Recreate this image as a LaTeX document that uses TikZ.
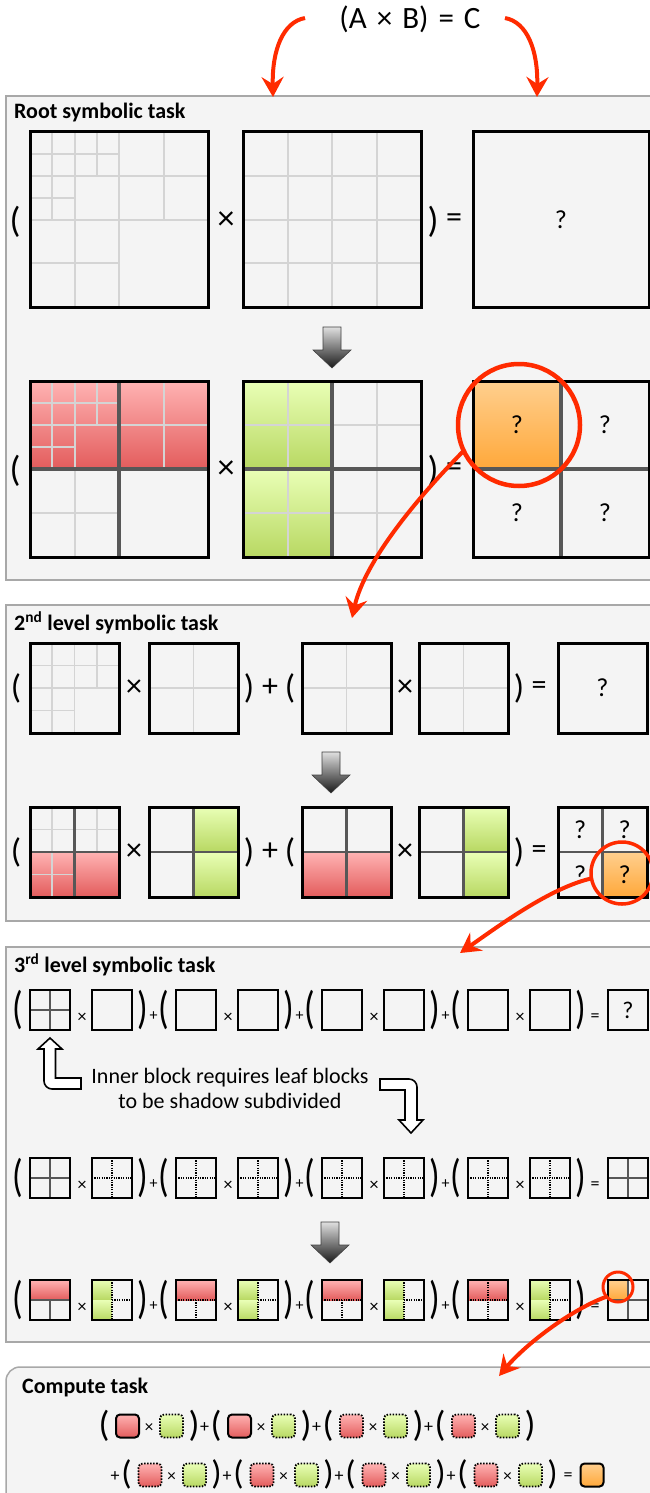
\documentclass[tikz,border=0pt]{standalone}
\usepackage{fontspec}
\setmainfont{Carlito}
\usetikzlibrary{arrows.meta}
\newcommand{\fsz}[1]{\fontsize{#1}{#1}\selectfont}
\definecolor{panelfill}{HTML}{F4F4F4}
\definecolor{panelline}{HTML}{A8A8A8}
\definecolor{lgray}{HTML}{D4D4D4}
\definecolor{dgray}{HTML}{575757}
\definecolor{redT}{HTML}{FFB3B3}
\definecolor{redB}{HTML}{E35C5C}
\definecolor{grnT}{HTML}{E9FFB6}
\definecolor{grnB}{HTML}{B8D862}
\definecolor{orgT}{HTML}{FFCF8E}
\definecolor{orgB}{HTML}{FFA83A}
\definecolor{hot}{HTML}{FF2B00}
\newcommand{\blk}[8]{%
  \begin{scope}[shift={(#2,#3)},xscale=#4/#6,yscale=#5/#6]#8\end{scope}%
  \node[#7,minimum width=#4pt,minimum height=#5pt] (#1) at (#2,#3) {};}
\newcommand{\Agrid}[1]{\draw[#1] (1,0)--(1,4) (2,0)--(2,8) (3,0)--(3,2) (4,0)--(4,8) (6,0)--(6,4) (0,1)--(4,1) (0,2)--(8,2) (0,3)--(2,3) (0,4)--(8,4) (0,6)--(4,6);}
\newcommand{\Bgrid}[1]{\draw[#1] (2,0)--(2,8) (4,0)--(4,8) (6,0)--(6,8) (0,2)--(8,2) (0,4)--(8,4) (0,6)--(8,6);}
\newcommand{\Qgrid}[1]{\draw[#1] (1,0)--(1,4) (2,0)--(2,4) (3,0)--(3,2) (0,1)--(4,1) (0,2)--(4,2) (0,3)--(2,3);}
\newcommand{\Cross}[1]{\draw[#1] (2,0)--(2,4) (0,2)--(4,2);}
\newcommand{\garrow}[2]{\draw[garr] ({#1-9},#2) -- ({#1+9},#2) -- ({#1+9},{#2+23}) -- ({#1+19},{#2+23}) -- (#1,{#2+41}) -- ({#1-19},{#2+23}) -- ({#1-9},{#2+23}) -- cycle;}
\newcommand{\thirdsyms}[3]{%
  \foreach \g/\xx in {1/30,2/176,3/322,4/468}{
    \node[sym=35] (#1l\g) at ({\xx-12},#2) {\scalebox{1}[1.3]{(}};
    \node[sym=18] (#1x\g) at ({\xx+52},#3) {×};
    \node[sym=35] (#1r\g) at ({\xx+112.5},#2) {\scalebox{1}[1.3]{)}};}
  \foreach \g/\xx in {1/30,2/176,3/322}{\node[sym=16] (#1p\g) at ({\xx+123.5},{#3-2}) {+};}
  \node[sym=18] (#1e) at (595,#3) {=};}
\tikzset{
  panel/.style={draw=panelline,fill=panelfill,line width=1.5pt,anchor=north west,inner sep=0pt,outer sep=0pt},
  ptitle/.style={anchor=base west,inner sep=0pt,font=\bfseries\fsz{22}},
  bbox/.style={draw=black,line width=3pt,anchor=north west,inner sep=0pt,outer sep=0pt},
  sbox/.style={draw=black,line width=2.4pt,anchor=north west,inner sep=0pt,outer sep=0pt},
  lg/.style={draw=lgray,line width=2pt},
  lgs/.style={draw=lgray,line width=1.6pt},
  dk/.style={draw=dgray,line width=3.4pt},
  dks/.style={draw=dgray,line width=2.4pt},
  dkt/.style={draw=dgray,line width=1.8pt},
  dt/.style={draw=black,line width=1.2pt,dash pattern=on 1.2pt off 1.2pt},
  redg/.style={top color=redT,bottom color=redB},
  grng/.style={top color=grnT,bottom color=grnB},
  orgg/.style={top color=orgT,bottom color=orgB},
  sym/.style={inner sep=0pt,font=\fsz{#1}},
  garr/.style={top color=gray!25,bottom color=black!90,draw=black!75,line width=0.6pt},
  hollow/.style={fill=white,draw=black,line width=1.6pt,line join=miter},
  ring/.style={circle,draw=hot,line width=#1,inner sep=0pt,outer sep=0pt},
  hotarrow/.style={draw=hot,line width=4pt,-{Stealth[length=20pt,width=22pt,inset=7pt]}},
  csq/.style={rounded corners=4pt,minimum size=23pt,inner sep=0pt,outer sep=0pt},
  csqs/.style={csq,draw=black,line width=2pt},
  csqd/.style={csq,draw=black,line width=1.8pt,dash pattern=on 1.5pt off 1.5pt},
}
\begin{document}
\begin{tikzpicture}[x=1pt,y=-1pt]
\clip (0,0) rectangle (650,1493);
\fill[white] (0,0) rectangle (650,1493);
% ---------------- Root panel
\node[panel,minimum width=670pt,minimum height=484pt] (P1) at (6,96) {};
\node[ptitle] (T1) at (14,118) {Root symbolic task};
\blk{A1}{30}{132}{178}{175}{8}{bbox}{\Agrid{lg}}
\blk{B1}{243}{132}{178}{175}{8}{bbox}{\Bgrid{lg}}
\blk{C1}{473}{132}{176}{175}{8}{bbox}{\node[sym=26] (q0) at (4,4) {?};}
\node[sym=36] (p1l) at (15,222) {(};
\node[sym=34] (p1x) at (226,221) {×};
\node[sym=36] (p1r) at (433,222) {)};
\node[sym=32] (p1e) at (454,221) {=};
\garrow{332}{327}
\blk{A2}{30}{381}{178}{176}{8}{bbox}{\fill[redg] (0,0) rectangle (4,4); \fill[redg] (4,0) rectangle (8,4); \Agrid{lg} \draw[dk] (4,0)--(4,8) (0,4)--(8,4);}
\blk{B2}{243}{381}{178}{176}{8}{bbox}{\fill[grng] (0,0) rectangle (4,4); \fill[grng] (0,4) rectangle (4,8); \Bgrid{lg} \draw[dk] (4,0)--(4,8) (0,4)--(8,4);}
\blk{C2}{473}{381}{176}{176}{8}{bbox}{\fill[orgg] (0,0) rectangle (4,4); \draw[dk] (4,0)--(4,8) (0,4)--(8,4);
  \node[sym=26] (q1) at (2,2) {?}; \node[sym=26] (q2) at (6,2) {?}; \node[sym=26] (q3) at (2,6) {?}; \node[sym=26] (q4) at (6,6) {?};}
\node[sym=36] (p2l) at (15,471) {(};
\node[sym=34] (p2x) at (226,470) {×};
\node[sym=36] (p2r) at (433,471) {)};
\node[sym=32] (p2e) at (454,470) {=};
% ---------------- 2nd level panel
\node[panel,minimum width=670pt,minimum height=316pt] (P2) at (6,605) {};
\node[ptitle] (T2) at (14,630) {2\textsuperscript{nd} level symbolic task};
\blk{L1a}{30}{643}{89}{90}{4}{bbox}{\Qgrid{lgs}}
\blk{L1b}{149}{643}{89}{90}{4}{bbox}{\Cross{lgs}}
\blk{L1c}{302}{643}{89}{90}{4}{bbox}{\Cross{lgs}}
\blk{L1d}{419}{643}{89}{90}{4}{bbox}{\Cross{lgs}}
\blk{L1e}{558}{643}{89}{90}{4}{bbox}{\node[sym=26] (q5) at (2,2) {?};}
\foreach \nm/\xx/\ch/\sz in {a/16/(/34,b/134/×/32,c/249/)/34,d/270/+/32,e/290/(/34,f/405/×/32,g/519/)/34,h/539/=/30}{
  \node[sym=\sz] (s1\nm) at (\xx,688) {\ch};}
\garrow{331}{752}
\blk{L2a}{30}{807}{89}{90}{4}{bbox}{\fill[redg] (0,2) rectangle (2,4); \fill[redg] (2,2) rectangle (4,4); \Qgrid{lgs} \Cross{dks}}
\blk{L2b}{149}{807}{89}{90}{4}{bbox}{\fill[grng] (2,0) rectangle (4,2); \fill[grng] (2,2) rectangle (4,4); \Cross{dks}}
\blk{L2c}{302}{807}{89}{90}{4}{bbox}{\fill[redg] (0,2) rectangle (2,4); \fill[redg] (2,2) rectangle (4,4); \Cross{dks}}
\blk{L2d}{419}{807}{89}{90}{4}{bbox}{\fill[grng] (2,0) rectangle (4,2); \fill[grng] (2,2) rectangle (4,4); \Cross{dks}}
\blk{L2e}{558}{807}{89}{90}{4}{bbox}{\fill[orgg] (2,2) rectangle (4,4); \Cross{dks}
  \node[sym=26] (q6) at (1,1) {?}; \node[sym=26] (q7) at (3,1) {?}; \node[sym=26] (q8) at (1,3) {?}; \node[sym=26] (q9) at (3,3) {?};}
\foreach \nm/\xx/\ch/\sz in {a/16/(/34,b/134/×/32,c/249/)/34,d/270/+/32,e/290/(/34,f/405/×/32,g/519/)/34,h/539/=/30}{
  \node[sym=\sz] (s2\nm) at (\xx,852) {\ch};}
% ---------------- 3rd level panel
\node[panel,minimum width=670pt,minimum height=395pt] (P3) at (6,947) {};
\node[ptitle] (T3) at (14,972) {3\textsuperscript{rd} level symbolic task};
% row 1
\blk{r1a1}{30}{990}{40}{40}{2}{sbox}{\draw[dkt] (1,0)--(1,2) (0,1)--(2,1);}
\foreach \g/\xx in {2/176,3/322,4/468}{\blk{r1a\g}{\xx}{990}{40}{40}{2}{sbox}{}}
\foreach \g/\xx in {1/30,2/176,3/322,4/468}{\blk{r1b\g}{\xx+62}{990}{40}{40}{2}{sbox}{}}
\blk{r1c}{608}{990}{40}{40}{2}{sbox}{\node[sym=24] (q10) at (1,1) {?};}
\thirdsyms{ra}{1010}{1018}
% note with hollow arrows
\draw[hollow] (50,1038) -- (62,1049) -- (55.5,1049) -- (55.5,1078) -- (81,1078) -- (81,1089) -- (52,1089) .. controls (47.6,1089) and (44,1085.4) .. (44,1081) -- (44,1049) -- (38,1049) -- cycle;
\draw[hollow] (380,1079) -- (409,1079) .. controls (413.4,1079) and (417,1082.6) .. (417,1087) -- (417,1120) -- (423,1120) -- (411,1133) -- (399,1120) -- (405,1120) -- (405,1090) -- (380,1090) -- cycle;
\node[align=center,inner sep=0pt,font=\fontsize{22}{25}\selectfont] (note) at (230,1088) {Inner block requires leaf blocks\\to be shadow subdivided};
% row 2
\blk{r2a1}{30}{1158}{40}{40}{2}{sbox}{\draw[dkt] (1,0)--(1,2) (0,1)--(2,1);}
\foreach \g/\xx in {2/176,3/322,4/468}{\blk{r2a\g}{\xx}{1158}{40}{40}{2}{sbox}{\draw[dt] (1,0)--(1,2) (0,1)--(2,1);}}
\foreach \g/\xx in {1/30,2/176,3/322,4/468}{\blk{r2b\g}{\xx+62}{1158}{40}{40}{2}{sbox}{\draw[dt] (1,0)--(1,2) (0,1)--(2,1);}}
\blk{r2c}{608}{1158}{40}{40}{2}{sbox}{\draw[dkt] (1,0)--(1,2) (0,1)--(2,1);}
\thirdsyms{rb}{1178}{1186}
\garrow{330}{1222}
% row 3
\blk{r3a1}{30}{1280}{40}{40}{2}{sbox}{\fill[redg] (0,0) rectangle (2,1); \draw[dkt] (0,1)--(2,1) (1,1)--(1,2);}
\foreach \g/\xx in {2/176,3/322}{\blk{r3a\g}{\xx}{1280}{40}{40}{2}{sbox}{\fill[redg] (0,0) rectangle (2,1); \draw[dt] (0,1)--(2,1) (1,1)--(1,2);}}
\blk{r3a4}{468}{1280}{40}{40}{2}{sbox}{\fill[redg] (0,0) rectangle (2,1); \draw[dt] (0,1)--(2,1) (1,0)--(1,2);}
\foreach \g/\xx in {1/30,2/176,3/322,4/468}{\blk{r3b\g}{\xx+62}{1280}{40}{40}{2}{sbox}{\fill[grng] (0,0) rectangle (1,1); \fill[grng] (0,1) rectangle (1,2); \draw[dt] (1,0)--(1,2) (1,1)--(2,1);}}
\blk{r3c}{608}{1280}{40}{40}{2}{sbox}{\fill[orgg] (0,0) rectangle (1,1); \draw[dkt] (1,0)--(1,2) (0,1)--(2,1);}
\thirdsyms{rc}{1300}{1308}
% ---------------- Compute panel
\node[panel,rounded corners=14pt,minimum width=670pt,minimum height=150pt] (P4) at (6,1367) {};
\node[ptitle] (T4) at (22,1393) {Compute task};
\foreach \k in {0,1}{\node[csqs,redg] (ca\k) at ({127.5+112*\k},1426) {};}
\foreach \k in {2,3}{\node[csqd,redg] (ca\k) at ({127.5+112*\k},1426) {};}
\foreach \k in {0,...,3}{
  \node[csqd,grng] (cb\k) at ({171.5+112*\k},1426) {};
  \node[sym=36] (cl\k) at ({104+112*\k},1426) {(};
  \node[sym=17] (cx\k) at ({149+112*\k},1428) {×};
  \node[sym=36] (cr\k) at ({194+112*\k},1426) {)};}
\foreach \k in {0,1,2}{\node[sym=18] (cp\k) at ({204.5+112*\k},1428) {+};}
\node[sym=18] (dp0) at (115,1477) {+};
\foreach \k in {0,...,3}{
  \node[csqd,redg] (da\k) at ({150+112*\k},1475) {};
  \node[csqd,grng] (db\k) at ({194.5+112*\k},1475) {};
  \node[sym=34] (dl\k) at ({126.5+112*\k},1474) {(};
  \node[sym=17] (dx\k) at ({171.5+112*\k},1477) {×};
  \node[sym=34] (dr\k) at ({216.5+112*\k},1474) {)};}
\foreach \k in {1,2,3}{\node[sym=18] (dp\k) at ({115+112*\k},1477) {+};}
\node[sym=18] (de) at (568,1477) {=};
\node[csqs,orgg] (dz) at (592,1475) {};
% ---------------- red highlights and arrows
\node[sym=31] (eq) at (410,19) {(A\hspace{3pt} × \hspace{3pt}B)\hspace{3pt} = \hspace{3pt}C};
\node[ring=4.5pt,minimum size=122pt] (O1) at (519,425) {};
\node[ring=3.5pt,minimum size=62pt] (O2) at (622,873) {};
\node[ring=3pt,minimum size=30pt] (O3) at (618,1287) {};
\coordinate (s1) at (305,18); \coordinate (e1) at (273,97);
\coordinate (s2) at (505,18); \coordinate (e2) at (537,97);
\coordinate (e3) at (352,618);
\coordinate (e4) at (460,953);
\coordinate (e5) at (499,1376);
\draw[hotarrow] (s1) .. controls (283,22) and (272,50) .. (e1);
\draw[hotarrow] (s2) .. controls (527,22) and (538,50) .. (e2);
\draw[hotarrow] (O1.205) .. controls (420,495) and (365,560) .. (e3);
\draw[hotarrow] (O2.190) .. controls (550,888) and (500,925) .. (e4);
\draw[hotarrow] (O3.220) .. controls (570,1310) and (525,1345) .. (e5);
\end{tikzpicture}
\end{document}
